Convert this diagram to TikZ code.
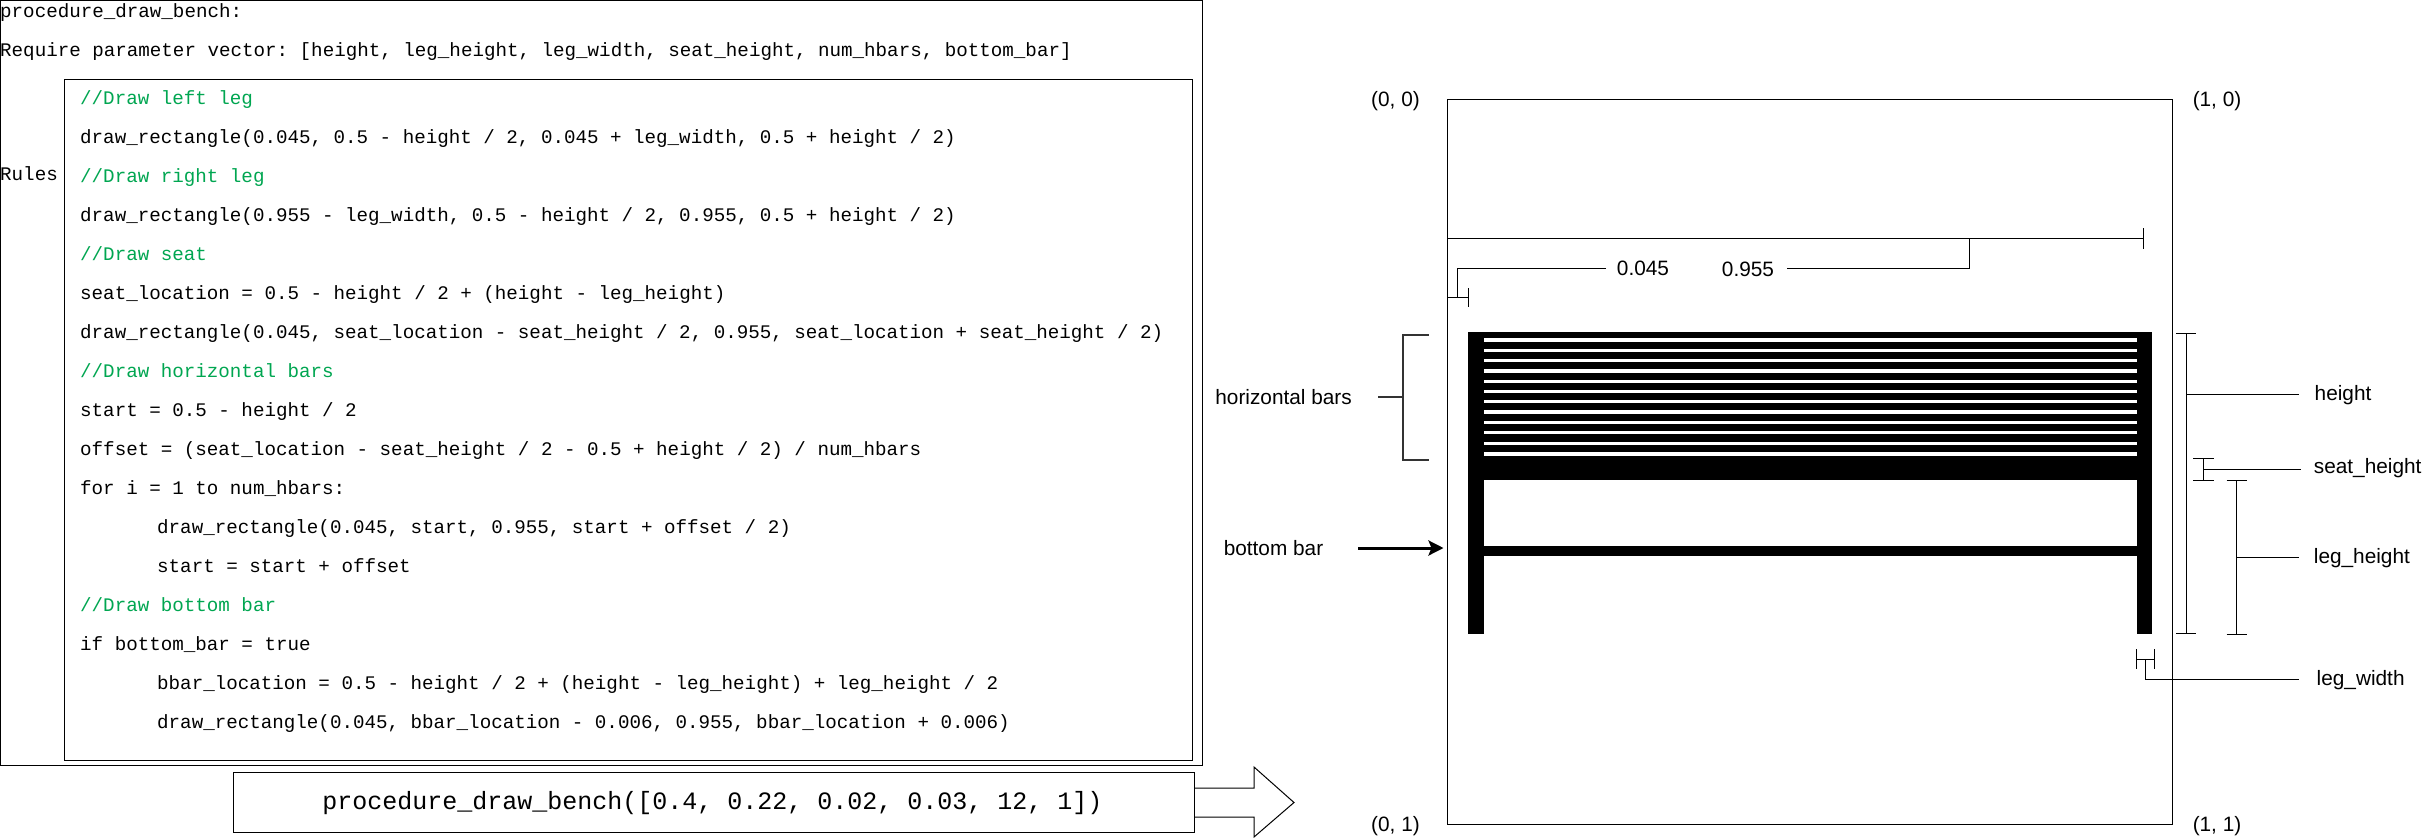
\documentclass[tikz,border=0pt]{standalone}
\usepackage{fontspec}
\setmainfont{Liberation Sans}
\newfontfamily\codefont{Liberation Mono}
\usetikzlibrary{arrows.meta}
\definecolor{cmt}{HTML}{00A651}
\tikzset{
  boxn/.style={draw=black,line width=1pt,fill=none,inner sep=0pt,outer sep=0pt},
  code/.style={anchor=base west,inner sep=0pt,font=\fontsize{19.2}{23}\selectfont\codefont\frenchspacing},
  cmtline/.style={code,text=cmt},
  bigcode/.style={inner sep=0pt,font=\fontsize{25}{29}\selectfont\codefont\frenchspacing},
  lab/.style={anchor=base,inner sep=0pt,font=\fontsize{20.8}{25}\selectfont},
  labw/.style={lab,anchor=base west},
  dim/.style={draw=black,line width=1pt},
  brk/.style={draw=black!80,line width=2pt},
  ink/.style={fill=black,draw=none},
  gap/.style={fill=white,draw=none}
}
\begin{document}
\begin{tikzpicture}[x=1pt,y=-1pt]
\useasboundingbox (0,0) rectangle (2423,838);
\fill[white] (0,0) rectangle (2423,838);

% code panels
\node[boxn,minimum width=1202pt,minimum height=764.5pt,anchor=north west] (outer) at (0.5,0.5) {};
\node[boxn,minimum width=1128pt,minimum height=681pt,anchor=north west] (inner) at (64,79) {};
\node[code] (t1) at (0,17) {procedure\_draw\_bench:};
\node[code] (t2) at (0,56) {Require parameter vector: [height, leg\_height, leg\_width, seat\_height, num\_hbars, bottom\_bar]};
\node[code] (rules) at (0,180) {Rules};
\node[cmtline] (c1) at (80,104) {//Draw left leg};
\node[code] (c2) at (80,143) {draw\_rectangle(0.045, 0.5 - height / 2, 0.045 + leg\_width, 0.5 + height / 2)};
\node[cmtline] (c3) at (80,182) {//Draw right leg};
\node[code] (c4) at (80,221) {draw\_rectangle(0.955 - leg\_width, 0.5 - height / 2, 0.955, 0.5 + height / 2)};
\node[cmtline] (c5) at (80,260) {//Draw seat};
\node[code] (c6) at (80,299) {seat\_location = 0.5 - height / 2 + (height - leg\_height)};
\node[code] (c7) at (80,338) {draw\_rectangle(0.045, seat\_location - seat\_height / 2, 0.955, seat\_location + seat\_height / 2)};
\node[cmtline] (c8) at (80,377) {//Draw horizontal bars};
\node[code] (c9) at (80,416) {start = 0.5 - height / 2};
\node[code] (c10) at (80,455.5) {offset = (seat\_location - seat\_height / 2 - 0.5 + height / 2) / num\_hbars};
\node[code] (c11) at (80,494.5) {for i = 1 to num\_hbars:};
\node[code] (c12) at (157,533.5) {draw\_rectangle(0.045, start, 0.955, start + offset / 2)};
\node[code] (c13) at (157,572.5) {start = start + offset};
\node[cmtline] (c14) at (80,611.5) {//Draw bottom bar};
\node[code] (c15) at (80,650.5) {if bottom\_bar = true};
\node[code] (c16) at (157,689.5) {bbar\_location = 0.5 - height / 2 + (height - leg\_height) + leg\_height / 2};
\node[code] (c17) at (157,728.5) {draw\_rectangle(0.045, bbar\_location - 0.006, 0.955, bbar\_location + 0.006)};

% call box and block arrow
\node[boxn,minimum width=961pt,minimum height=60pt,anchor=north west] (call) at (233,772) {};
\node[bigcode] (calltext) at (712.5,803) {procedure\_draw\_bench([0.4, 0.22, 0.02, 0.03, 12, 1])};
\coordinate (aa) at (1194,788);
\coordinate (ab) at (1194,817);
\coordinate (atip) at (1294,802.5);
\draw[dim,line join=miter] (aa) -- (1254,788) -- (1254,767) -- (atip) -- (1254,837) -- (1254,817) -- (ab);

% canvas
\node[boxn,minimum width=725pt,minimum height=725pt,anchor=north west] (canvas) at (1447,99) {};
\node[lab] (p00) at (1395.5,106) {(0, 0)};
\node[lab] (p10) at (2217,106) {(1, 0)};
\node[lab] (p01) at (1395.5,831) {(0, 1)};
\node[lab] (p11) at (2217,831) {(1, 1)};

% bench
\fill[ink] (1467.5,332) rectangle (1483.5,634);
\fill[ink] (2136.5,332) rectangle (2152,634);
\fill[ink] (1467.5,332) rectangle (2152,480);
\fill[ink] (1483,546) rectangle (2137,556);
\foreach \yy in {340,350.6,360.7,371,381.3,391.7,401.7,412,422.3,432.7,443.5,454}
  \fill[gap] (1483.5,\yy-1.6) rectangle (2136.5,\yy+1.6);

% 0.955 / 0.045 dimensions
\coordinate (wl) at (1447,238);
\coordinate (wr) at (2143,238);
\coordinate (wb) at (1969,238);
\node[lab] (n955) at (1748,276) {0.955};
\node[lab] (n045) at (1643,275) {0.045};
\draw[dim] (wl) -- (wr);
\draw[dim] (1447,228) -- (1447,249);
\draw[dim] (2143,228) -- (2143,249);
\draw[dim] (wb) -- (1969,268) -- (1787,268);
\coordinate (ml) at (1447,297);
\coordinate (mr) at (1468,297);
\draw[dim] (ml) -- (mr);
\draw[dim] (1447,288) -- (1447,307);
\draw[dim] (1468,288) -- (1468,307);
\draw[dim] (1606,268) -- (1457.5,268) -- (1457.5,297);

% horizontal bars bracket
\node[lab] (nhb) at (1283.6,404) {horizontal bars};
\draw[brk] (1428.5,335) -- (1403,335) -- (1403,460) -- (1428.5,460);
\draw[brk] (1378,397) -- (1403,397);

% bottom bar arrow
\node[lab] (nbb) at (1273.5,555) {bottom bar};
\coordinate (bbs) at (1358,548);
\coordinate (bbe) at (1443.5,548);
\draw[black,line width=3pt,-{Stealth[length=15pt,width=15pt,inset=3pt]}] (bbs) -- (bbe);

% height
\draw[dim] (2176,333) -- (2196,333);
\draw[dim] (2176,633) -- (2196,633);
\draw[dim] (2186,333) -- (2186,633);
\draw[dim] (2186,394) -- (2299,394);
\node[labw] (nh) at (2314.5,400.5) {height};

% seat_height
\draw[dim] (2193,458) -- (2213.6,458);
\draw[dim] (2193,480) -- (2213.6,480);
\draw[dim] (2203,458) -- (2203,480);
\draw[dim] (2203,469) -- (2300.6,469);
\node[labw] (nsh) at (2313.7,473.5) {seat\_height};

% leg_height
\draw[dim] (2226.7,480) -- (2247,480);
\draw[dim] (2226.7,634) -- (2247,634);
\draw[dim] (2236.6,480) -- (2236.6,634);
\draw[dim] (2236.6,557) -- (2299,557);
\node[labw] (nlh) at (2313.7,563.5) {leg\_height};

% leg_width
\draw[dim] (2136.5,649) -- (2136.5,669);
\draw[dim] (2154,649) -- (2154,669);
\draw[dim] (2136.5,659) -- (2154,659);
\draw[dim] (2145.6,659) -- (2145.6,679) -- (2299,679);
\node[labw] (nlw) at (2316.5,685.5) {leg\_width};
\end{tikzpicture}
\end{document}
